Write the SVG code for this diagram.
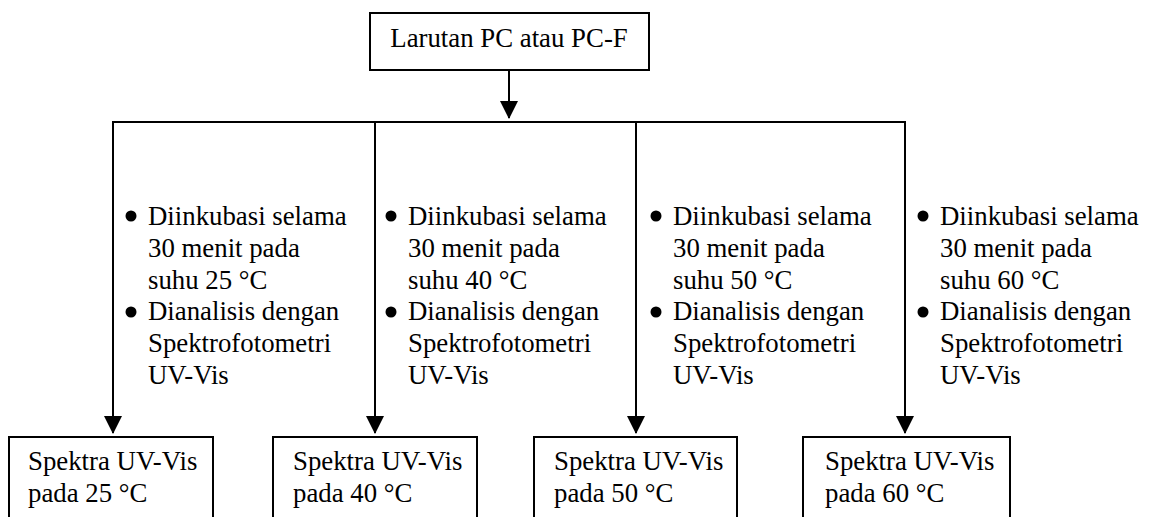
<svg xmlns="http://www.w3.org/2000/svg" width="1153" height="517" viewBox="0 0 1153 517">
<style>
.box{fill:#fff;stroke:#000;stroke-width:2}
.ln{fill:none;stroke:#000;stroke-width:2}
text{font-family:"Liberation Serif","Times New Roman",serif;font-size:26.8px;fill:#000}
.b{fill:#000}
</style>
<defs>
<marker id="ah" markerUnits="userSpaceOnUse" markerWidth="18" markerHeight="19" refX="17" refY="9" orient="auto">
<path d="M0,0 L18,9 L0,18 Z" fill="#000"/>
</marker>
</defs>
<rect width="1153" height="517" fill="#fff"/>
<g id="connectors">
<line class="ln" x1="509" y1="70" x2="509" y2="118" marker-end="url(#ah)"/>
<line class="ln" x1="112" y1="122" x2="906" y2="122"/>
<line class="ln" x1="113" y1="122" x2="113" y2="433" marker-end="url(#ah)"/>
<line class="ln" x1="375" y1="122" x2="375" y2="433" marker-end="url(#ah)"/>
<line class="ln" x1="636" y1="122" x2="636" y2="433" marker-end="url(#ah)"/>
<line class="ln" x1="905" y1="122" x2="905" y2="433" marker-end="url(#ah)"/>
</g>
<g id="start">
<rect class="box" x="370" y="13" width="279" height="57"/>
<text x="509" y="47" text-anchor="middle">Larutan PC atau PC-F</text>
</g>
<g id="step1">
<circle class="b" cx="131" cy="216" r="5.5"/>
<circle class="b" cx="131" cy="312" r="5.5"/>
<text x="148" y="225">Diinkubasi selama</text>
<text x="148" y="257">30 menit pada</text>
<text x="148" y="289">suhu 25 °C</text>
<text x="148" y="320">Dianalisis dengan</text>
<text x="148" y="352">Spektrofotometri</text>
<text x="148" y="384">UV-Vis</text>
</g>
<g id="step2">
<circle class="b" cx="391" cy="216" r="5.5"/>
<circle class="b" cx="391" cy="312" r="5.5"/>
<text x="408" y="225">Diinkubasi selama</text>
<text x="408" y="257">30 menit pada</text>
<text x="408" y="289">suhu 40 °C</text>
<text x="408" y="320">Dianalisis dengan</text>
<text x="408" y="352">Spektrofotometri</text>
<text x="408" y="384">UV-Vis</text>
</g>
<g id="step3">
<circle class="b" cx="656" cy="216" r="5.5"/>
<circle class="b" cx="656" cy="312" r="5.5"/>
<text x="673" y="225">Diinkubasi selama</text>
<text x="673" y="257">30 menit pada</text>
<text x="673" y="289">suhu 50 °C</text>
<text x="673" y="320">Dianalisis dengan</text>
<text x="673" y="352">Spektrofotometri</text>
<text x="673" y="384">UV-Vis</text>
</g>
<g id="step4">
<circle class="b" cx="923" cy="216" r="5.5"/>
<circle class="b" cx="923" cy="312" r="5.5"/>
<text x="940" y="225">Diinkubasi selama</text>
<text x="940" y="257">30 menit pada</text>
<text x="940" y="289">suhu 60 °C</text>
<text x="940" y="320">Dianalisis dengan</text>
<text x="940" y="352">Spektrofotometri</text>
<text x="940" y="384">UV-Vis</text>
</g>
<g id="result1">
<rect class="box" x="9" y="437" width="204" height="100"/>
<text x="28" y="470">Spektra UV-Vis</text>
<text x="28" y="502">pada 25 °C</text>
</g>
<g id="result2">
<rect class="box" x="273" y="437" width="204" height="100"/>
<text x="293" y="470">Spektra UV-Vis</text>
<text x="293" y="502">pada 40 °C</text>
</g>
<g id="result3">
<rect class="box" x="534" y="437" width="203" height="100"/>
<text x="554" y="470">Spektra UV-Vis</text>
<text x="554" y="502">pada 50 °C</text>
</g>
<g id="result4">
<rect class="box" x="803" y="437" width="207" height="100"/>
<text x="825" y="470">Spektra UV-Vis</text>
<text x="825" y="502">pada 60 °C</text>
</g>
</svg>
